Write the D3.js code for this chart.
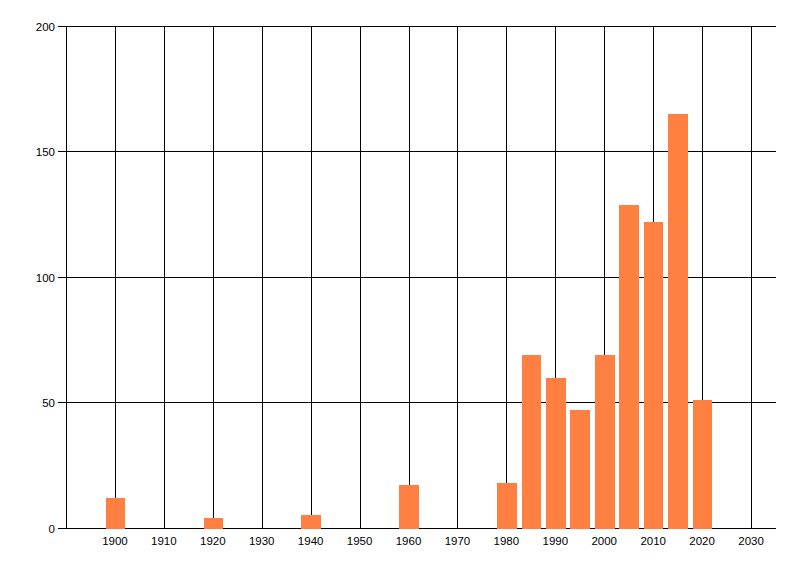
<!DOCTYPE html>
<html>
<head>
<meta charset="utf-8">
<script src="https://cdn.jsdelivr.net/npm/d3@7"></script>
<style>
  html, body { margin: 0; padding: 0; background: #fff; }
  svg { display: block; }
  text { font-family: "Liberation Sans", Arial, sans-serif; font-size: 11.5px; fill: #000; }
</style>
</head>
<body>
<svg id="chart" width="800" height="576"></svg>
<script>
const years = [1900, 1920, 1940, 1960, 1980, 1985, 1990, 1995, 2000, 2005, 2010, 2015, 2020];
const counts = [12, 4, 5, 17, 18, 69, 60, 47, 69, 129, 122, 165, 51];
const xTicks = [1900, 1910, 1920, 1930, 1940, 1950, 1960, 1970, 1980, 1990, 2000, 2010, 2020, 2030];
const yTicks = [0, 50, 100, 150, 200];
const barYears = 4;

const svg = d3.select("#chart");
const x = d3.scaleLinear().domain([1890, 2035]).range([66.5, 776]);
const y = d3.scaleLinear().domain([0, 200]).range([528, 26.5]);
const px = v => Math.floor(v) + 0.5;

// vertical grid lines
svg.append("g").selectAll("line").data(xTicks).join("line")
  .attr("x1", d => px(x(d))).attr("x2", d => px(x(d)))
  .attr("y1", px(y(200))).attr("y2", px(y(0)))
  .attr("stroke", "#000").attr("stroke-width", 1)
  .attr("shape-rendering", "crispEdges");

// horizontal grid lines with left ticks
svg.append("g").selectAll("line").data(yTicks).join("line")
  .attr("x1", 58).attr("x2", 776)
  .attr("y1", d => px(y(d))).attr("y2", d => px(y(d)))
  .attr("stroke", "#000").attr("stroke-width", 1)
  .attr("shape-rendering", "crispEdges");

// y axis line
svg.append("line")
  .attr("x1", px(x(1890))).attr("x2", px(x(1890)))
  .attr("y1", px(y(200))).attr("y2", px(y(0)))
  .attr("stroke", "#000")
  .attr("shape-rendering", "crispEdges");

// bars
svg.append("g").selectAll("rect").data(years).join("rect")
  .attr("x", (d) => x(d - barYears / 2))
  .attr("width", (d) => x(d + barYears / 2) - x(d - barYears / 2))
  .attr("y", (d, i) => y(counts[i]))
  .attr("height", (d, i) => px(y(0)) - y(counts[i]))
  .attr("fill", "#ff8040")
  .attr("shape-rendering", "crispEdges");

// y labels
svg.append("g").selectAll("text").data(yTicks).join("text")
  .attr("x", 55).attr("y", d => px(y(d)))
  .attr("dy", "0.36em")
  .attr("text-anchor", "end")
  .text(d => d);

// x labels
svg.append("g").selectAll("text").data(xTicks).join("text")
  .attr("x", d => x(d) - 0.5).attr("y", 545)
  .attr("text-anchor", "middle")
  .text(d => d);
</script>
</body>
</html>
